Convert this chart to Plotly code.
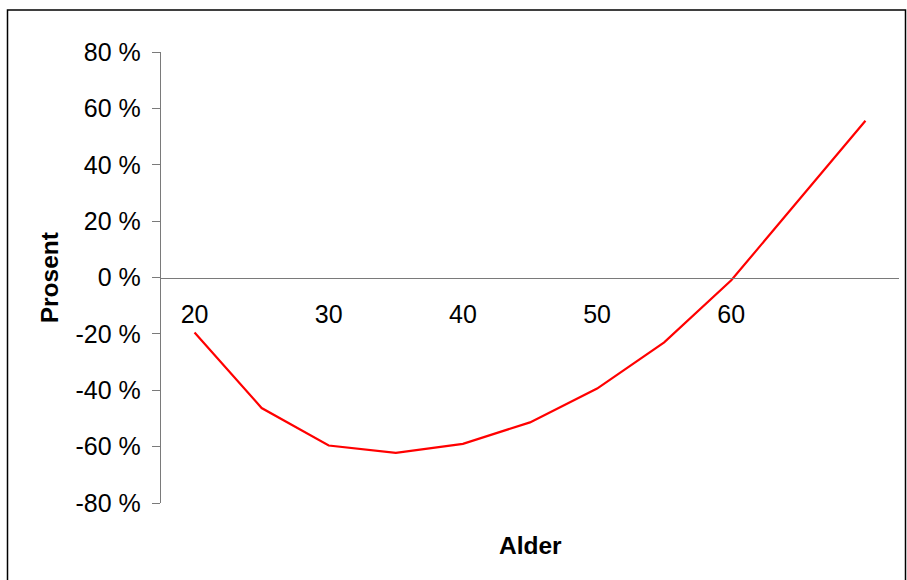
import plotly.graph_objects as go

# Age groups and the percentage change for each
alder = [20, 25, 30, 35, 40, 45, 50, 55, 60, 65, 70]
prosent = [-19.5, -46.3, -59.6, -62.2, -59.0, -51.4, -39.4, -23.0, -1.0, 27.3, 55.6]

x_ticks = [20, 30, 40, 50, 60]
y_ticks = [-80, -60, -40, -20, 0, 20, 40, 60, 80]
y_tick_labels = ["-80 %", "-60 %", "-40 %", "-20 %", "0 %", "20 %", "40 %", "60 %", "80 %"]

FONT = "Liberation Sans, Arial, sans-serif"
AXIS_GREY = "#7a7a7a"

fig = go.Figure(
    go.Scatter(
        x=alder,
        y=prosent,
        mode="lines",
        line=dict(color="#ff0000", width=2.2),
        hoverinfo="skip",
    )
)

fig.update_layout(
    width=907,
    height=580,
    margin=dict(l=161, r=8, t=52, b=77),
    paper_bgcolor="white",
    plot_bgcolor="white",
    showlegend=False,
    font=dict(family=FONT, size=25, color="black"),
    xaxis=dict(
        range=[17.5, 72.5],
        tickvals=x_ticks,
        ticktext=[str(v) for v in x_ticks],
        showgrid=False,
        zeroline=False,
        showline=True,
        linecolor=AXIS_GREY,
        linewidth=1.3,
        ticks="",
        anchor="free",
        position=0.5,
        ticklabelstandoff=14,
        tickfont=dict(family=FONT, size=25),
    ),
    yaxis=dict(
        range=[-80, 80],
        tickvals=y_ticks,
        ticktext=y_tick_labels,
        showgrid=False,
        zeroline=False,
        showline=True,
        linecolor=AXIS_GREY,
        linewidth=1.3,
        ticks="outside",
        ticklen=8,
        tickcolor=AXIS_GREY,
        tickwidth=1.3,
        ticklabelstandoff=6,
        tickfont=dict(family=FONT, size=25),
    ),
    annotations=[
        dict(
            text="<b>Alder</b>",
            xref="paper", yref="paper",
            x=0.5, y=-0.095,
            xanchor="center", yanchor="middle",
            showarrow=False,
            font=dict(family=FONT, size=24.5),
        ),
        dict(
            text="<b>Prosent</b>",
            xref="paper", yref="paper",
            x=-0.1507, y=0.5,
            xanchor="center", yanchor="middle",
            textangle=-90,
            showarrow=False,
            font=dict(family=FONT, size=24.5),
        ),
    ],
    shapes=[
        dict(
            type="rect",
            xref="paper", yref="paper",
            xsizemode="pixel", ysizemode="pixel",
            xanchor=0, yanchor=0,
            x0=-153.5, x1=744.5,
            y0=-90, y1=493,
            line=dict(color="black", width=1.5),
            fillcolor="rgba(0,0,0,0)",
        )
    ],
)

fig.write_html("out.html")
